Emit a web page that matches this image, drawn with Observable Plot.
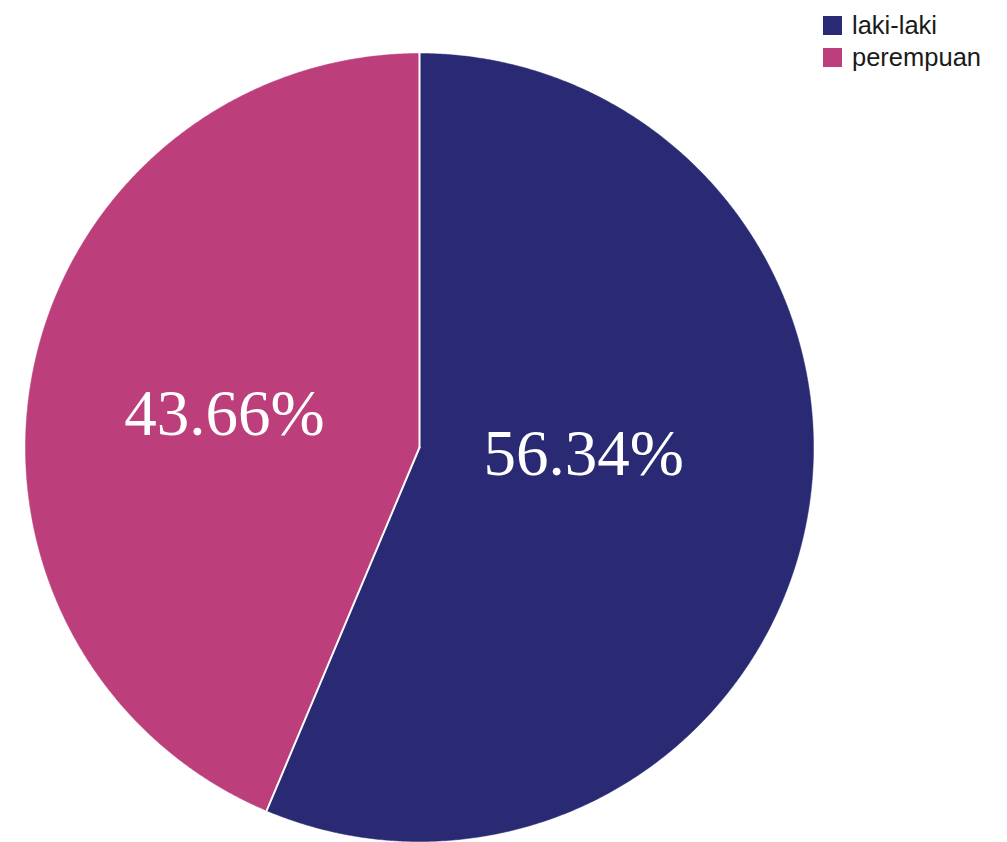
<!DOCTYPE html>
<html>
<head>
<meta charset="utf-8">
<script src="https://cdn.jsdelivr.net/npm/d3@7"></script>
<script src="https://cdn.jsdelivr.net/npm/@observablehq/plot@0.6"></script>
<style>
  html, body { margin: 0; padding: 0; background: #fff; }
  #wrap { position: relative; width: 1007px; height: 842px; }
  #legend { position: absolute; left: 823px; top: 9px; font-family: "Liberation Sans", Arial, sans-serif; font-size: 25.5px; color: #1a1a1a; }
  .row { display: flex; align-items: center; height: 32px; }
  .sw { width: 19px; height: 19px; margin-right: 10px; }
</style>
</head>
<body>
<div id="wrap"><div id="legend"></div></div>
<script>
// ---- data ----
const categories = ["laki-laki", "perempuan"];
const values = [56.34, 43.66];
const labels = ["56.34%", "43.66%"];
const colors = ["#292a73", "#bc3f7b"];

// ---- build slices from d3.pie (clockwise from top) ----
const arcs = d3.pie().sort(null).value(d => d.value)(
  categories.map((c, i) => ({cat: c, value: values[i], label: labels[i]}))
);
const pts = [];
const labelRows = [];
for (const a of arcs) {
  const cat = a.data.cat;
  pts.push({cat, x: 0, y: 0});
  const n = Math.max(2, Math.ceil((a.endAngle - a.startAngle) / 0.005));
  for (let k = 0; k <= n; k++) {
    const t = a.startAngle + (a.endAngle - a.startAngle) * k / n;
    pts.push({cat, x: Math.sin(t), y: Math.cos(t)});
  }
  pts.push({cat, x: 0, y: 0});
  const m = (a.startAngle + a.endAngle) / 2;
  labelRows.push({cat, label: a.data.label, x: 0.5 * Math.sin(m), y: 0.5 * Math.cos(m)});
}

const textOpts = {x: "x", y: "y", text: "label", fill: "white", fontSize: 65,
  fontFamily: "Liberation Serif, Times New Roman, serif", textAnchor: "middle"};

const chart = Plot.plot({
  width: 1007,
  height: 842,
  marginLeft: 25,
  marginRight: 194,
  marginTop: 53,
  marginBottom: 1,
  x: {domain: [-1, 1], axis: null},
  y: {domain: [-1, 1], axis: null},
  color: {type: "ordinal", domain: categories, range: colors},
  style: {background: "white"},
  marks: [
    Plot.line(pts, {x: "x", y: "y", z: "cat", fill: "cat", stroke: "cat", strokeWidth: 0.5, curve: "linear"}),
    Plot.line(pts.filter(d => false), {x: "x", y: "y"}),
    // white dividers: radial edges of each slice
    Plot.line(arcs.flatMap(a => [
      {cat: a.data.cat, x: Math.sin(a.startAngle), y: Math.cos(a.startAngle)},
      {cat: a.data.cat, x: 0, y: 0}
    ]), {x: "x", y: "y", z: "cat", stroke: "white", strokeWidth: 2}),
    Plot.text(labelRows.filter(d => d.cat === categories[1]), {...textOpts, dx: -2, dy: 6}),
    Plot.text(labelRows.filter(d => d.cat === categories[0]), {...textOpts, dx: -29, dy: -32})
  ]
});
document.getElementById("wrap").prepend(chart);

// ---- legend ----
const legend = document.getElementById("legend");
categories.forEach((c, i) => {
  const row = document.createElement("div");
  row.className = "row";
  const sw = document.createElement("div");
  sw.className = "sw";
  sw.style.background = colors[i];
  const lab = document.createElement("span");
  lab.textContent = c;
  row.append(sw, lab);
  legend.append(row);
});
</script>
</body>
</html>
